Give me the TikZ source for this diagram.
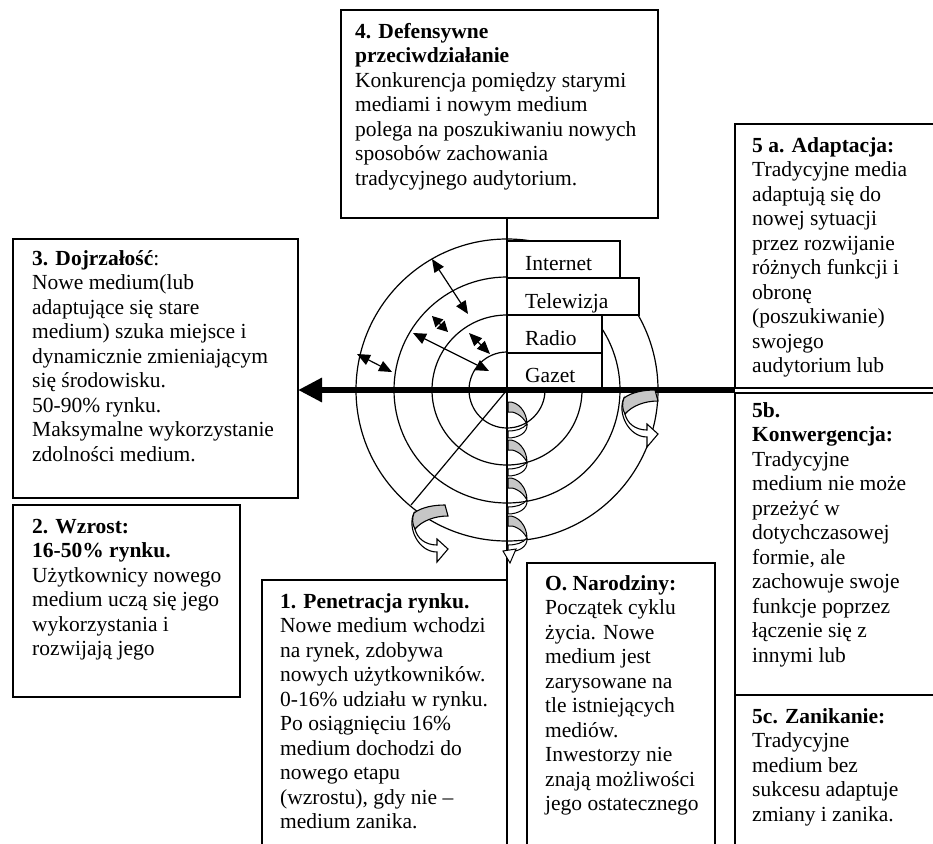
\documentclass[tikz,border=0pt]{standalone}
\usepackage{fontspec}
\setmainfont{Liberation Serif}
\usetikzlibrary{arrows.meta}

\newcommand\stagefont{\fontsize{21.5}{24.5}\selectfont}
\newcommand\twistarrow[1]{%
  \begin{scope}[shift={#1}]
    \draw[line width=1.1pt, fill=white] (4,8) .. controls (-3,22) and (8,47) .. (27,47)
      -- (27,57) -- (38,44) -- (27,34) -- (27,40) .. controls (15,40) and (7,33) .. (5,24) -- cycle;
    \draw[line width=1.1pt, fill=gray!45] (4,8) .. controls (12,2) and (24,0) .. (35,0)
      -- (38,11) .. controls (24,11) and (12,16) .. (5,24) .. controls (2,19) and (2,13) .. (4,8) -- cycle;
  \end{scope}}

\tikzset{
  stagebox/.style={draw, line width=1.4pt},
  stagetext/.style={anchor=base west, inner sep=0pt, font=\stagefont},
  ring/.style={line width=1.2pt},
  mediabox/.style={draw, fill=white, line width=1.2pt},
  dblarrow/.style={line width=1.2pt, {Triangle[length=13pt,width=11pt]}-{Triangle[length=13pt,width=11pt]}},
  tinyarrow/.style={line width=1.2pt, {Triangle[length=10.5pt,width=11pt]}-{Triangle[length=10.5pt,width=11pt]}}
}

\begin{document}
\begin{tikzpicture}[x=1pt,y=-1pt]
    \useasboundingbox (0,0) rectangle (933,843);
    \clip (0,0) rectangle (933,843);

    % rings of the life cycle
    \coordinate (hub) at (507,390);
    \foreach \r in {38,75,113,151}
	\draw[ring] (hub) circle (\r);
    \coordinate (rim) at (411,505);
    \draw[ring] (hub) -- (rim);

    % media labels
    \draw[mediabox] (507,241) rectangle (620,278);
    \draw[mediabox] (507,278) rectangle (639,315);
    \draw[mediabox] (507,315) rectangle (602,353);
    \draw[mediabox] (507,353) rectangle (602,390);
    \node[stagetext] (internet) at (525,270) {Internet};
    \node[stagetext] (tv) at (525,308) {Telewizja};
    \node[stagetext] (radio) at (525,345) {Radio};
    \node[stagetext] (press) at (525,382) {Gazet};

    % axes
    \coordinate (adapt sw) at (735,390);
    \coordinate (mature e) at (298,390);
    \draw[line width=6.5pt, -{Triangle[length=24pt,width=23pt]}] (adapt sw) -- (mature e);
    \coordinate (defense s) at (507,218);
    \coordinate (axis end) at (507,850);
    \draw[line width=1.3pt] (defense s) -- (axis end);

    % arrows between rings
    \foreach \n/\ax/\ay/\bx/\by in {1/432/259/468/314, 2/413/333/489/371, 3/357/354/392/372, 4/469/333/490/354}
    {
	\coordinate (in\n) at (\ax,\ay);
	\coordinate (out\n) at (\bx,\by);
	\draw[dblarrow] (in\n) -- (out\n);
    }
    \coordinate (in5) at (432,316);
    \coordinate (out5) at (448,332);
    \draw[tinyarrow] (in5) -- (out5);

    % twisted arrows
    \twistarrow{(410,505)}
    \twistarrow{(620,390)}

    % helix along the axis
    \foreach \y in {427,465,503,541}
    {
	\draw[line width=1pt, fill=white] (527,\y-3) .. controls (528,\y+6) and (518,\y+11) .. (508,\y+11)
	    -- (508,\y+4) .. controls (516,\y+4) and (523,\y+2) .. (527,\y-3);
	\filldraw[fill=gray!45, line width=1pt] (508,\y-25) .. controls (518,\y-26) and (527,\y-15) .. (527,\y-3)
	    .. controls (522,\y-12) and (514,\y-16) .. (508,\y-15) -- cycle;
    }
    \draw[line width=1pt, fill=white] (503,551) -- (516,549) -- (510,563) -- cycle;

    % stage boxes
    \draw[stagebox] (341,10) rectangle (658,218);
    \draw[stagebox] (13,239) rectangle (298,498);
    \draw[stagebox] (735,124) rectangle (945,388);
    \draw[stagebox] (735,393) rectangle (945,695);
    \draw[stagebox] (735,695) rectangle (945,860);
    \draw[stagebox] (13,505) rectangle (240,697);
    \draw[stagebox] (262,580) rectangle (507,860);
    \draw[stagebox] (527,563) rectangle (715,860);

    \node[stagetext] (defense) at (355,38) {\begin{tabular}[t]{@{}l@{}}
	\textbf{4. Defensywne}\\ \textbf{przeciwdziałanie}\\ Konkurencja pomiędzy starymi\\
	mediami i nowym medium\\ polega na poszukiwaniu nowych\\ sposobów zachowania\\
	tradycyjnego audytorium.\end{tabular}};
    \node[stagetext] (mature) at (32,265) {\begin{tabular}[t]{@{}l@{}}
	\textbf{3. Dojrzałość}:\\ Nowe medium(lub\\ adaptujące się stare\\ medium) szuka miejsce i\\
	dynamicznie zmieniającym\\ się środowisku.\\ 50-90\% rynku.\\ Maksymalne wykorzystanie\\
	zdolności medium.\end{tabular}};
    \node[stagetext] (adapt) at (752,152) {\begin{tabular}[t]{@{}l@{}}
	\textbf{5 a. Adaptacja:}\\ Tradycyjne media\\ adaptują się do\\ nowej sytuacji\\
	przez rozwijanie\\ różnych funkcji i\\ obronę\\ (poszukiwanie)\\ swojego\\
	audytorium lub\end{tabular}};
    \node[stagetext] (converge) at (752,417) {\begin{tabular}[t]{@{}l@{}}
	\textbf{5b.}\\ \textbf{Konwergencja:}\\ Tradycyjne\\ medium nie może\\ przeżyć w\\
	dotychczasowej\\ formie, ale\\ zachowuje swoje\\ funkcje poprzez\\ łączenie się z\\
	innymi lub\end{tabular}};
    \node[stagetext] (vanish) at (752,723) {\begin{tabular}[t]{@{}l@{}}
	\textbf{5c. Zanikanie:}\\ Tradycyjne\\ medium bez\\ sukcesu adaptuje\\
	zmiany i zanika.\end{tabular}};
    \node[stagetext] (growth) at (32,533) {\begin{tabular}[t]{@{}l@{}}
	\textbf{2. Wzrost:}\\ \textbf{16-50\% rynku.}\\ Użytkownicy nowego\\
	medium uczą się jego\\ wykorzystania i\\ rozwijają jego\end{tabular}};
    \node[stagetext] (entry) at (280,608) {\begin{tabular}[t]{@{}l@{}}
	\textbf{1. Penetracja rynku.}\\ Nowe medium wchodzi\\ na rynek, zdobywa\\
	nowych użytkowników.\\ 0-16\% udziału w rynku.\\ Po osiągnięciu 16\%\\
	medium dochodzi do\\ nowego etapu\\ (wzrostu), gdy nie --\\ medium zanika.\end{tabular}};
    \node[stagetext] (birth) at (545,590) {\begin{tabular}[t]{@{}l@{}}
	\textbf{O. Narodziny:}\\ Początek cyklu\\ życia. Nowe\\ medium jest\\
	zarysowane na\\ tle istniejących\\ mediów.\\ Inwestorzy nie\\
	znają możliwości\\ jego ostatecznego\end{tabular}};
\end{tikzpicture}
\end{document}
